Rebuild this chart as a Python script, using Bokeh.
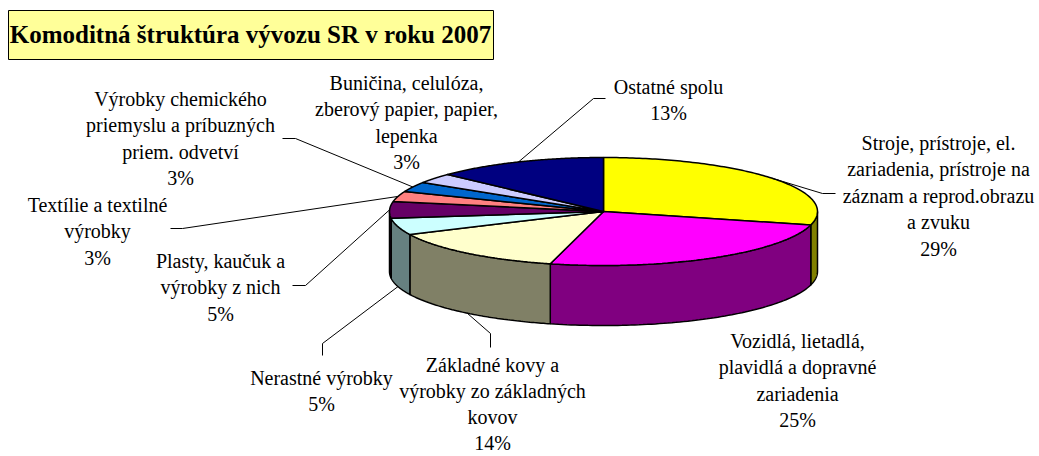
import numpy as np
from bokeh.plotting import figure
from bokeh.models import Range1d
from bokeh.core.properties import value
from bokeh.embed import file_html
from bokeh.resources import INLINE

# ---------------- data ----------------
title_text = "Komoditná štruktúra vývozu SR v roku 2007"
categories = [
    "Stroje, prístroje, el.\nzariadenia, prístroje na\nzáznam a reprod.obrazu\na zvuku",
    "Vozidlá, lietadlá,\nplavidlá a dopravné\nzariadenia",
    "Základné kovy a\nvýrobky zo základných\nkovov",
    "Nerastné výrobky",
    "Plasty, kaučuk a\nvýrobky z nich",
    "Textílie a textilné\nvýrobky",
    "Výrobky chemického\npriemyslu a príbuzných\npriem. odvetví",
    "Buničina, celulóza,\nzberový papier, papier,\nlepenka",
    "Ostatné spolu",
]
shares = [29, 25, 14, 5, 5, 3, 3, 3, 13]
top_colors = ["#FFFF00", "#FF00FF", "#FFFFCC", "#CCFFFF", "#660066",
              "#FF8080", "#0066CC", "#CCCCFF", "#000080"]
side_colors = ["#808000", "#800080", "#808066", "#668080", "#330033",
               "#804040", "#003366", "#666680", "#000040"]

# ---------------- layout ----------------
CX, CY, RX, RY, DEPTH = 603, 211, 214, 54, 60
FONT = "Times New Roman"
LINE_SP = 26.5
label_pos = [(938, 142), (797, 340), (492, 364), (321, 377), (220, 260),
             (97, 204), (180, 98), (406, 82), (668, 86)]
label_sp = [LINE_SP, LINE_SP, 26.0, LINE_SP, LINE_SP, LINE_SP, LINE_SP, LINE_SP, LINE_SP]
leader_pts = [[(822, 193), (835, 193)], None, [(490, 333), (490, 347)],
              [(322, 343), (322, 355)], [(305, 285), (292, 285)],
              [(182, 228), (170, 228)], [(295, 138), (282, 138)], None,
              [(593, 98), (605, 98)]]
leader_rim = ["top", None, "bottom", "bottom", "top", "top", "top", None, "top"]

p = figure(width=1039, height=456, output_backend="svg", toolbar_location=None,
           x_range=Range1d(0, 1039), y_range=Range1d(456, 0),
           x_axis_location=None, y_axis_location=None, min_border=0)
p.outline_line_color = None
p.grid.visible = False
p.background_fill_color = "white"
p.border_fill_color = "white"

vals = np.array(shares, dtype=float)
frac = vals / vals.sum()
cum = np.concatenate([[0], np.cumsum(frac)])
starts = np.deg2rad(90 - 360 * cum[:-1])
ends = np.deg2rad(90 - 360 * cum[1:])


def rim(th, drop=0.0):
    return CX + RX * np.cos(th), CY - RY * np.sin(th) + drop

# side walls (front half only: angles between -pi and 0)
side_xs, side_ys, side_cols = [], [], []
for a0, a1, c in zip(starts, ends, side_colors):
    hi = min(a0, 0.0)
    lo = max(a1, -np.pi)
    if hi > lo:
        th = np.linspace(hi, lo, 80)
        tx, ty = rim(th)
        bx, by = rim(th[::-1], DEPTH)
        side_xs.append(list(np.concatenate([tx, bx])))
        side_ys.append(list(np.concatenate([ty, by])))
        side_cols.append(c)
p.patches(side_xs, side_ys, fill_color=side_cols, line_color="black", line_width=1.5)

# top faces
top_xs, top_ys = [], []
for a0, a1 in zip(starts, ends):
    th = np.linspace(a0, a1, 120)
    ax, ay = rim(th)
    top_xs.append([CX] + list(ax))
    top_ys.append([CY] + list(ay))
p.patches(top_xs, top_ys, fill_color=top_colors, line_color="black", line_width=1.5)

# leader lines
lxs, lys = [], []
for a0, a1, pts, kind in zip(starts, ends, leader_pts, leader_rim):
    if pts is None:
        continue
    m = (a0 + a1) / 2
    tx, ty = rim(m, DEPTH if kind == "bottom" else 0.0)
    lxs.append([float(tx)] + [q[0] for q in pts])
    lys.append([float(ty)] + [q[1] for q in pts])
p.multi_line(lxs, lys, line_color="black", line_width=1)

# labels
tx_, ty_, tt_ = [], [], []
for cat, v, (x0, y0), sp in zip(categories, shares, label_pos, label_sp):
    lines = cat.split("\n") + [f"{v}%"]
    for i, ln in enumerate(lines):
        tx_.append(x0)
        ty_.append(y0 + i * sp)
        tt_.append(ln)
p.text(x=tx_, y=ty_, text=tt_, text_align="center", text_baseline="middle",
       text_font=value(FONT), text_font_size="20px", text_color="black")

# title box
p.quad(left=[8], right=[493], top=[10], bottom=[59], fill_color="#FFFF99",
       line_color="black", line_width=1)
p.text(x=[250], y=[34], text=[title_text], text_align="center", text_baseline="middle",
       text_font=value(FONT), text_font_size="25px", text_font_style="bold",
       text_color="black")

open("out.html", "w").write(file_html(p, INLINE))
